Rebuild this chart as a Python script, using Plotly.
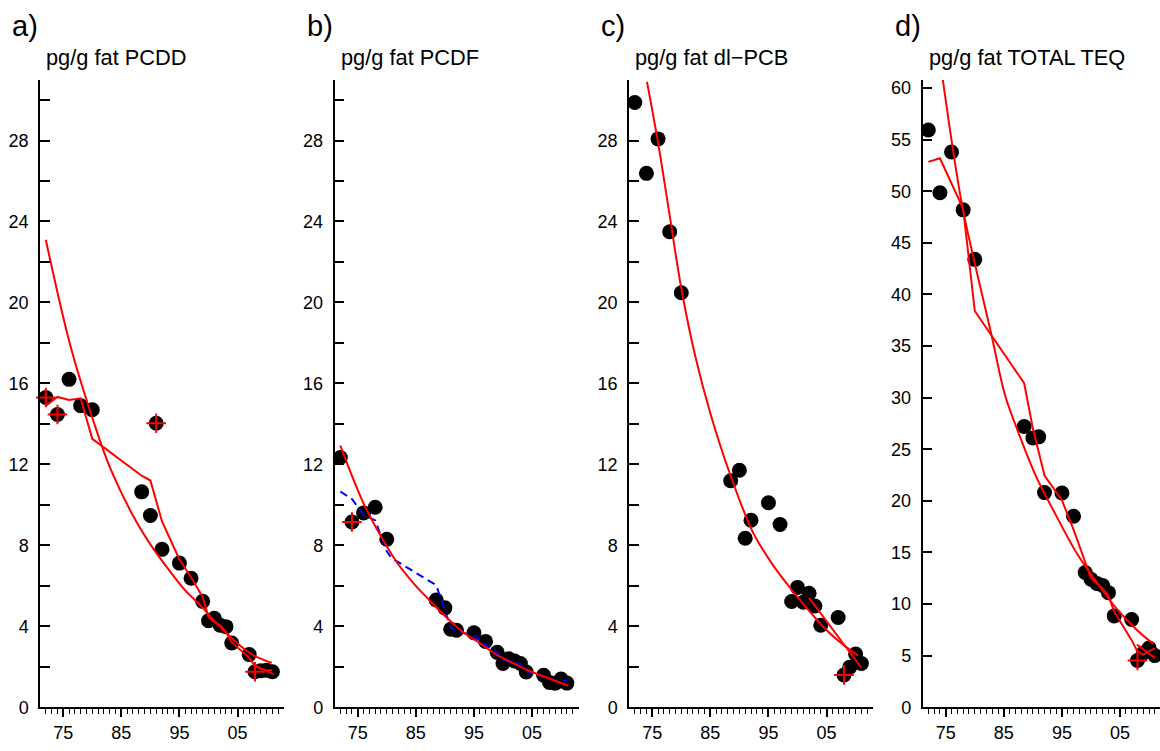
import plotly.graph_objects as go

# ---------------- data ----------------
years = [1972, 1974, 1976, 1978, 1980, 1988.5, 1990, 1991, 1992, 1995, 1997,
         1999, 2000, 2001, 2002, 2003, 2004, 2007, 2008, 2009, 2010, 2011]

pcdd = [15.3, 14.46, 16.2, 14.9, 14.7, 10.64, 9.47, 14.03, 7.80, 7.12, 6.37,
        5.23, 4.27, 4.39, 4.05, 3.98, 3.17, 2.60, 1.75, 1.80, 1.82, 1.75]
pcdf = [12.34, 9.15, 9.60, 9.88, 8.30, 5.30, 4.91, 3.85, 3.80, 3.68, 3.25,
        2.71, 2.16, 2.39, 2.28, 2.16, 1.74, 1.58, 1.22, 1.18, 1.39, 1.19]
dlpcb = [29.88, 26.38, 28.08, 23.49, 20.48, 11.19, 11.71, 8.35, 9.24, 10.10, 9.03,
         5.22, 5.92, 5.19, 5.63, 5.00, 4.05, 4.43, 1.59, 1.98, 2.63, 2.16]
teq = [55.94, 49.86, 53.80, 48.20, 43.40, 27.20, 26.10, 26.20, 20.80, 20.76, 18.50,
       13.06, 12.40, 12.00, 11.80, 11.10, 8.85, 8.50, 4.53, 5.25, 5.73, 5.00]

# years marked with a red "+" (excluded samples)
pcdd_marked = [1972, 1974, 1991, 2008]
pcdf_marked = [1974]
dlpcb_marked = [2008]
teq_marked = [2008]

# fitted (smooth, red) curves
pcdd_fit_x = [1972, 1976.2, 1980.2, 1983.1, 1987.4, 1990.2, 1993.1, 1996.0, 1998.85, 2001.7, 2004.6, 2007.5, 2010.9]
pcdd_fit_y = [23.1, 17.9, 14.13, 11.8, 9.26, 7.96, 6.82, 5.77, 4.96, 4.06, 3.25, 2.60, 2.19]
pcdf_fit_x = [1972, 1975.9, 1978.7, 1981.6, 1984.5, 1987.4, 1990.2, 1993.1, 1996.0, 1998.9, 2001.7, 2004.6, 2007.5, 2011.2]
pcdf_fit_y = [12.92, 10.13, 8.59, 7.21, 6.16, 5.27, 4.46, 3.72, 3.17, 2.59, 2.19, 1.79, 1.47, 1.06]
dlpcb_fit_x = [1974.1, 1976, 1978, 1980, 1982.4, 1985.1, 1988.4, 1992.4, 1995.9, 1998.9, 2002.2, 2004.7, 2007.9, 2010.4]
dlpcb_fit_y = [30.9, 27.9, 24.3, 20.7, 17.35, 14.43, 11.51, 8.60, 6.97, 5.84, 4.70, 3.89, 3.08, 2.56]
teq_fit_x = [1974.5, 1976.55, 1978, 1982.9, 1985.2, 1987.2, 1990.6, 1994.1, 1997.5, 2001.0, 2004.4, 2007.9, 2010.7]
teq_fit_y = [60.8, 52.9, 48.1, 36.0, 30.25, 27.07, 22.3, 18.47, 14.97, 12.1, 9.55, 7.49, 6.15]

# piecewise smoothers
pcdd_sm_x = [1972, 1974, 1976, 1978, 1980, 1988.5, 1990, 1992, 1995, 1997, 1999, 2000, 2001, 2002, 2003, 2004, 2007, 2008, 2009, 2010, 2011]
pcdd_sm_y = [14.9, 15.33, 15.18, 15.26, 13.26, 11.44, 11.2, 9.18, 7.30, 6.42, 5.44, 4.45, 4.20, 4.05, 3.74, 3.20, 2.45, 2.03, 1.88, 1.82, 1.82]
pcdf_sm_x = [1972, 1974, 1976, 1978, 1980, 1980.8, 1988.5, 1989.1, 1991, 1992, 1995, 1997, 1999, 2000, 2001, 2002, 2003, 2004, 2007, 2009, 2011]
pcdf_sm_y = [10.66, 10.29, 9.51, 9.23, 7.70, 7.37, 6.03, 5.51, 3.95, 3.77, 3.52, 3.09, 2.70, 2.35, 2.25, 2.23, 2.12, 1.78, 1.49, 1.34, 1.30]
teq_sm_x = [1972, 1974, 1978, 1980, 1988.5, 1990, 1992, 1995, 1997, 1999, 2000, 2001, 2002, 2003, 2004, 2007, 2008, 2009, 2011]
teq_sm_y = [52.85, 53.2, 48.3, 38.4, 31.4, 27.0, 22.45, 20.06, 17.2, 14.0, 12.5, 12.0, 11.5, 10.8, 9.24, 6.5, 5.4, 5.1, 5.73]

# short recent-trend lines
pcdd_tr_x = [2007.7, 2011.2]
pcdd_tr_y = [2.10, 1.63]
dlpcb_tr_x = [2002.0, 2011.0]
dlpcb_tr_y = [5.40, 1.95]
teq_tr_x = [2007.9, 2011.0]
teq_tr_y = [6.06, 4.78]

letters = ["a)", "b)", "c)", "d)"]
titles = ["pg/g fat PCDD", "pg/g fat PCDF", "pg/g fat dl\u2212PCB", "pg/g fat TOTAL TEQ"]
major_years = [1975, 1985, 1995, 2005]
major_text = ["75", "85", "95", "05"]
minor_years = list(range(1972, 2013))

# ---------------- figure ----------------
W, H = 1160, 751
FONT = "Liberation Sans, Arial, Helvetica, sans-serif"
PX_PER_YEAR = 5.81
lefts = [40, 334.5, 629, 922.5]
widths = [244, 244, 244, W - 922.5]
top_px, bot_px = 80, 716.7
ymax = [31, 31, 31, 60.8]
ytick_step = [2, 2, 2, 5]
ylabel_step = [4, 4, 4, 5]

RED = "#FF0000"
BLUE = "#0000FF"

fig = go.Figure()

panels = [
    dict(v=pcdd, marked=pcdd_marked, fit=(pcdd_fit_x, pcdd_fit_y),
         sm=(pcdd_sm_x, pcdd_sm_y, RED, "solid"), tr=(pcdd_tr_x, pcdd_tr_y)),
    dict(v=pcdf, marked=pcdf_marked, fit=(pcdf_fit_x, pcdf_fit_y),
         sm=(pcdf_sm_x, pcdf_sm_y, BLUE, "dash"), tr=None),
    dict(v=dlpcb, marked=dlpcb_marked, fit=(dlpcb_fit_x, dlpcb_fit_y),
         sm=None, tr=(dlpcb_tr_x, dlpcb_tr_y)),
    dict(v=teq, marked=teq_marked, fit=(teq_fit_x, teq_fit_y),
         sm=(teq_sm_x, teq_sm_y, RED, "solid"), tr=(teq_tr_x, teq_tr_y)),
]

annotations = []
for i, p in enumerate(panels):
    n = "" if i == 0 else str(i + 1)
    xa, ya = "x" + n, "y" + n
    # points
    fig.add_trace(go.Scatter(x=years, y=p["v"], mode="markers", xaxis=xa, yaxis=ya,
                             marker=dict(size=15, color="black"), cliponaxis=False,
                             showlegend=False, hoverinfo="skip"))
    # smoother
    if p["sm"] is not None:
        sx, sy, col, dash = p["sm"]
        fig.add_trace(go.Scatter(x=sx, y=sy, mode="lines", xaxis=xa, yaxis=ya,
                                 line=dict(color=col, width=2, dash=("8px,5px" if dash == "dash" else "solid")),
                                 showlegend=False, hoverinfo="skip"))
    # fitted curve
    fx, fy = p["fit"]
    fig.add_trace(go.Scatter(x=fx, y=fy, mode="lines", xaxis=xa, yaxis=ya,
                             line=dict(color=RED, width=2, shape="spline", smoothing=1.0),
                             showlegend=False, hoverinfo="skip"))
    # recent trend
    if p["tr"] is not None:
        tx, ty = p["tr"]
        fig.add_trace(go.Scatter(x=tx, y=ty, mode="lines", xaxis=xa, yaxis=ya,
                                 line=dict(color=RED, width=2),
                                 showlegend=False, hoverinfo="skip"))
    # marked samples
    mx = [yr for yr in years if yr in p["marked"]]
    my = [p["v"][years.index(yr)] for yr in mx]
    fig.add_trace(go.Scatter(x=mx, y=my, mode="markers", xaxis=xa, yaxis=ya,
                             marker=dict(symbol="cross-thin", size=14,
                                         line=dict(color=RED, width=2)),
                             cliponaxis=False, showlegend=False, hoverinfo="skip"))

    left, wid = lefts[i], widths[i]
    x0 = 1971.0
    x1 = x0 + wid / PX_PER_YEAR
    yt = [k for k in range(0, int(ymax[i]) + 1, ytick_step[i])]
    ytxt = [str(k) if k % ylabel_step[i] == 0 else "" for k in yt]

    fig.layout["xaxis" + n] = dict(
        domain=[left / W, (left + wid) / W], range=[x0, x1], anchor=ya,
        showline=True, linecolor="black", linewidth=1.5, mirror=False,
        showgrid=False, zeroline=False,
        tickmode="array", tickvals=major_years, ticktext=major_text,
        ticks="outside", ticklen=8, tickwidth=1.5, tickcolor="black",
        tickfont=dict(family=FONT, size=18, color="black"),
        minor=dict(tickmode="array", tickvals=minor_years, ticks="outside",
                   ticklen=5, tickwidth=1.2, tickcolor="black", showgrid=False),
        fixedrange=True,
    )
    fig.layout["yaxis" + n] = dict(
        domain=[1 - bot_px / H, 1 - top_px / H], range=[0, ymax[i]], anchor=xa,
        showline=True, linecolor="black", linewidth=1.5,
        showgrid=False, zeroline=False,
        tickmode="array", tickvals=yt, ticktext=ytxt,
        ticks="inside", ticklen=10, tickwidth=1.5, tickcolor="black",
        tickfont=dict(family=FONT, size=18, color="black"),
        ticklabelstandoff=6,
        fixedrange=True,
    )
    annotations.append(dict(text=letters[i], x=(left - 30) / W, y=1 - 25 / H,
                            xref="paper", yref="paper", xanchor="left", yanchor="middle",
                            showarrow=False, font=dict(family=FONT, size=29, color="black")))
    annotations.append(dict(text=titles[i], x=(left + 4) / W, y=1 - 57 / H,
                            xref="paper", yref="paper", xanchor="left", yanchor="middle",
                            showarrow=False, font=dict(family=FONT, size=21.8, color="black")))

fig.update_layout(
    width=W, height=H, margin=dict(l=0, r=0, t=0, b=0),
    paper_bgcolor="white", plot_bgcolor="white",
    annotations=annotations, showlegend=False,
    font=dict(family=FONT, color="black"),
)

fig.write_html("out.html", config={"displayModeBar": False},
               post_script="document.body.style.margin='0';document.body.style.overflow='hidden';")
